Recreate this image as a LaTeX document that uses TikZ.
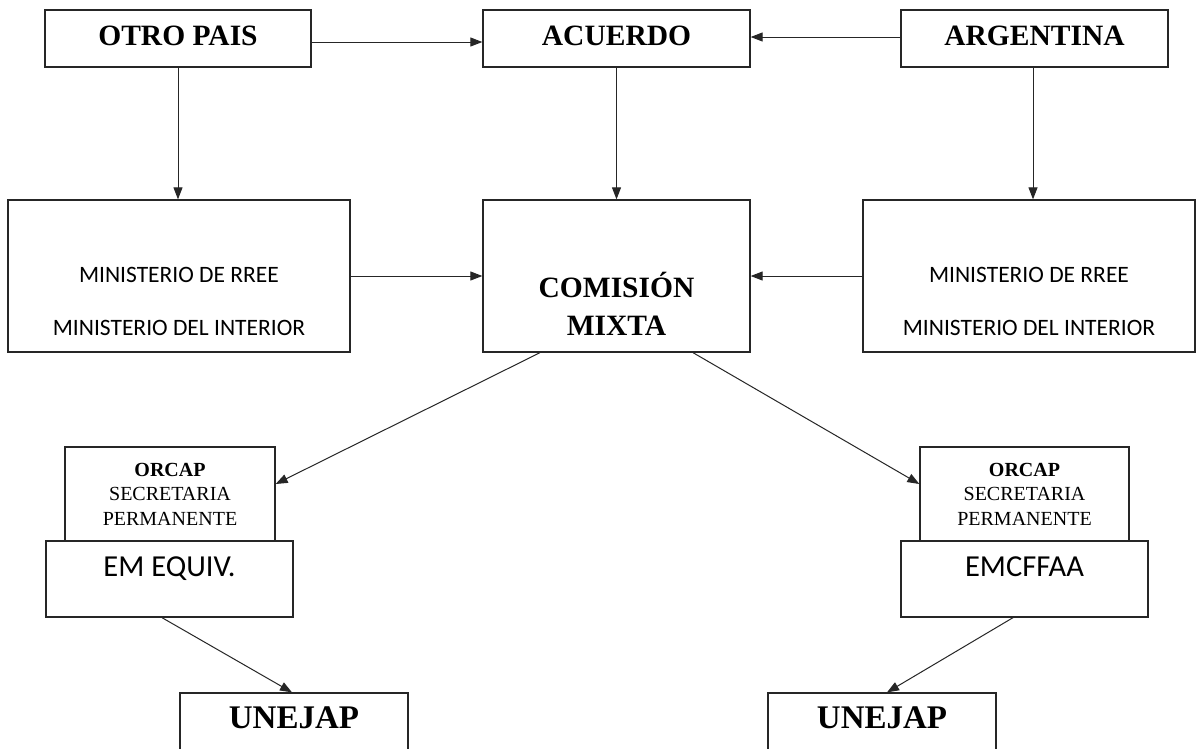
\documentclass[tikz,border=0pt]{standalone}
\usepackage{fontspec}
\setmainfont{Liberation Serif}
\newfontfamily\calfont{Carlito}
\usetikzlibrary{arrows.meta}
\definecolor{orgLine}{HTML}{262626}
\tikzset{
  org box/.style={draw=orgLine, line width=1.3pt, fill=white, inner sep=0pt, align=center},
  org link/.style={draw=orgLine, line width=1pt, -{Triangle[length=12pt,width=9pt]}},
  org title/.style={font=\fontsize{29.5}{38}\selectfont\bfseries, align=center},
  org big title/.style={font=\fontsize{33}{36}\selectfont\bfseries},
  org ministry/.style={font=\calfont\fontsize{23.5}{53}\selectfont, align=center},
  org small/.style={font=\fontsize{20}{24.5}\selectfont, align=center},
  org staff/.style={font=\calfont\fontsize{30.5}{32}\selectfont},
}

\begin{document}
\begin{tikzpicture}[x=1pt,y=-1pt]
  \fill[white] (0,0) rectangle (1198,748);
  \useasboundingbox (0,0) rectangle (1198,748);
  \clip (0,0) rectangle (1198,748);
  % Top row
  \node[org box, org title, minimum width=266, minimum height=57, text depth=6pt] (otro) at (178,38.5) {OTRO PAIS};
  \node[org box, org title, minimum width=267, minimum height=57, text depth=6pt] (acuerdo) at (616.5,38.5) {ACUERDO};
  \node[org box, org title, minimum width=267, minimum height=57, text depth=6pt] (argentina) at (1034.5,38.5) {ARGENTINA};
  % Middle row
  \node[org box, minimum width=342, minimum height=152] (minL) at (179,276) {};
  \node[org box, minimum width=267, minimum height=152] (comision) at (616.5,276) {};
  \node[org box, minimum width=332, minimum height=152] (minR) at (1029,276) {};
  \node[org ministry] (minLtxt) at ([yshift=-25.5pt]minL.center) {MINISTERIO DE RREE\\MINISTERIO DEL INTERIOR};
  \node[org ministry] (minRtxt) at ([yshift=-25.5pt]minR.center) {MINISTERIO DE RREE\\MINISTERIO DEL INTERIOR};
  \node[org title] (comtxt) at ([yshift=-28pt]comision.center) {COMISIÓN\\MIXTA};
  % Lower blocks
  \node[org box, org small, minimum width=210, minimum height=94] (orcapL) at (170,494)
    {\textbf{ORCAP}\\SECRETARIA\\PERMANENTE};
  \node[org box, org small, minimum width=209, minimum height=94] (orcapR) at (1024.5,494)
    {\textbf{ORCAP}\\SECRETARIA\\PERMANENTE};
  \node[org box, minimum width=247, minimum height=76] (emL) at (169.5,579) {};
  \node[org box, minimum width=247, minimum height=76] (emR) at (1024.5,579) {};
  \node[org staff, anchor=base] (emLtxt) at ([yshift=-36pt]emL.north) {EM EQUIV.};
  \node[org staff, anchor=base] (emRtxt) at ([yshift=-36pt]emR.north) {EMCFFAA};
  \node[org box, minimum width=228, minimum height=80] (unejapL) at (294,733) {};
  \node[org box, minimum width=228, minimum height=80] (unejapR) at (882,733) {};
  \node[org big title, anchor=base] (unejapLtxt) at ([yshift=-36pt]unejapL.north) {UNEJAP};
  \node[org big title, anchor=base] (unejapRtxt) at ([yshift=-36pt]unejapR.north) {UNEJAP};
  % Connectors
  \draw[org link] ([yshift=-3.5pt]otro.east) -- ([yshift=-3.5pt]acuerdo.west);
  \draw[org link] ([yshift=1.5pt]argentina.west) -- ([yshift=1.5pt]acuerdo.east);
  \draw[org link] (otro.south) -- (otro.south |- minL.north);
  \draw[org link] (acuerdo) -- (comision);
  \draw[org link] ([xshift=-1.5pt]argentina.south) -- ([xshift=-1.5pt]argentina.south |- minR.north);
  \draw[org link] (minL.east) -- (comision.west);
  \draw[org link] (minR.west) -- (comision.east);
  \draw[org link] ([xshift=-76.5pt]comision.south) -- ([yshift=10pt]orcapL.east);
  \draw[org link] ([xshift=76.5pt]comision.south) -- ([yshift=10pt]orcapR.west);
  \draw[org link] ([xshift=-7.5pt]emL.south) -- ([xshift=-2pt]unejapL.north);
  \draw[org link] ([xshift=-11.5pt]emR.south) -- ([xshift=5pt]unejapR.north);
\end{tikzpicture}
\end{document}
